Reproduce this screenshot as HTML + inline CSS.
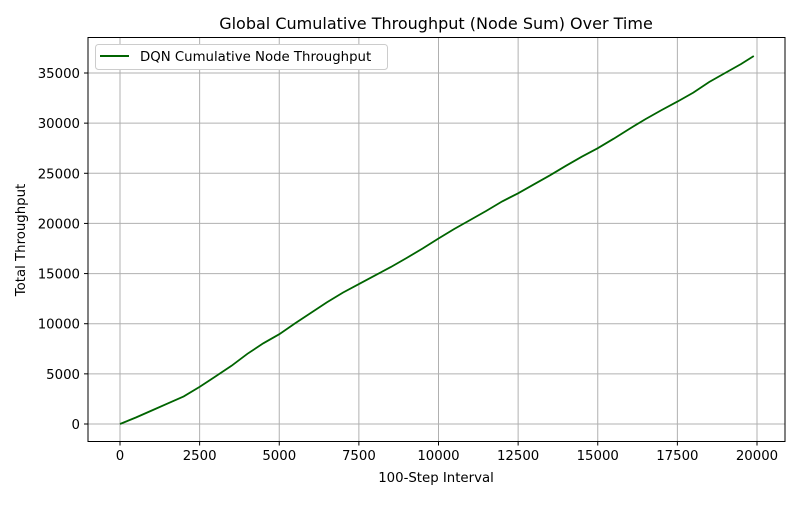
<!DOCTYPE html>
<html><head><meta charset="utf-8"><style>
body{margin:0;background:#fff;}
svg text{font-family:"DejaVu Sans","Liberation Sans",sans-serif;fill:#000;}
</style></head><body>
<svg id="chart" width="800" height="500" xmlns="http://www.w3.org/2000/svg">
<rect width="800" height="500" fill="#fff"/>
<text x="436" y="29" font-size="16" text-anchor="middle">Global Cumulative Throughput (Node Sum) Over Time</text>
<g id="grid"></g><g id="ticks"></g>
<path id="line" fill="none" stroke="#006400" stroke-width="1.8"/>
<rect x="88" y="37.5" width="697" height="404" fill="none" stroke="#000" stroke-width="1"/>
<text x="436" y="482" font-size="13.3" text-anchor="middle">100-Step Interval</text>
<text transform="translate(25,240) rotate(-90)" font-size="13.3" text-anchor="middle">Total Throughput</text>
<g>
<rect x="95.5" y="44.5" width="292" height="25" rx="3" fill="#fff" stroke="#ccc"/>
<line x1="100" y1="56" x2="129" y2="56" stroke="#006400" stroke-width="2"/>
<text x="140" y="61" font-size="13.3">DQN Cumulative Node Throughput</text>
</g>
</svg>
<script>
const xs=[0,500,1000,1500,2000,2500,3000,3500,4000,4500,5000,5500,6000,6500,7000,7500,8000,8500,9000,9500,10000,10500,11000,11500,12000,12500,13000,13500,14000,14500,15000,15500,16000,16500,17000,17500,18000,18500,19000,19500,19900];
const ys=[0,650,1350,2050,2750,3700,4750,5800,7000,8050,8950,10050,11100,12150,13100,13950,14800,15650,16550,17500,18500,19450,20350,21250,22200,23000,23900,24800,25750,26650,27500,28450,29450,30400,31300,32150,33050,34100,35000,35900,36700];
const xTicks=[0,2500,5000,7500,10000,12500,15000,17500,20000];
const yTicks=[0,5000,10000,15000,20000,25000,30000,35000];
const X=v=>120+v*637/20000, Y=v=>424-v*351/35000;
const ns="http://www.w3.org/2000/svg";
const grid=document.getElementById('grid'), tk=document.getElementById('ticks');
function mk(tag,at,p){const e=document.createElementNS(ns,tag);for(const k in at)e.setAttribute(k,at[k]);p.appendChild(e);return e;}
xTicks.forEach(v=>{
 const g=mk('line',{x1:X(v),x2:X(v),y1:37.5,y2:441.5,stroke:'#b0b0b0','stroke-width':1},grid);
 
 
 mk('line',{x1:X(v),x2:X(v),y1:441.5,y2:445.5,stroke:'#000'},tk);
 const t=mk('text',{x:X(v),y:460,'font-size':13.3,'text-anchor':'middle'},tk);t.textContent=v;
 
 
});
yTicks.forEach(v=>{
 const g=mk('line',{x1:88,x2:785,y1:Y(v),y2:Y(v),stroke:'#b0b0b0','stroke-width':1},grid);
 
 
 mk('line',{x1:84,x2:88,y1:Y(v),y2:Y(v),stroke:'#000'},tk);
 const t=mk('text',{x:80,y:Y(v)+5,'font-size':13.3,'text-anchor':'end'},tk);t.textContent=v;
 
 
});
document.getElementById('line').setAttribute('d',xs.map((x,i)=>(i?'L':'M')+X(x).toFixed(1)+','+Y(ys[i]).toFixed(1)).join(''));
</script>
</body></html>
